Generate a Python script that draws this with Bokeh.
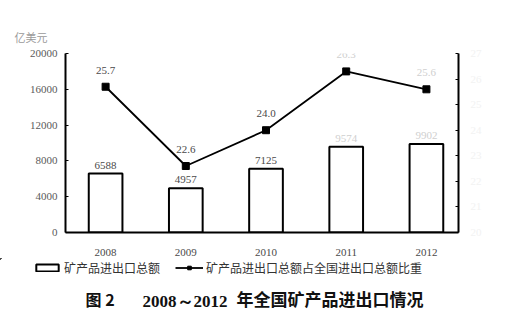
from bokeh.plotting import figure
from bokeh.models import (Range1d, LinearAxis, FixedTicker, Legend, LegendItem,
                          Label, ColumnDataSource)
from bokeh.core.properties import value
from bokeh.embed import file_html
from bokeh.resources import INLINE

# Data
years = ["2008", "2009", "2010", "2011", "2012"]
trade_total = [6588, 4957, 7125, 9574, 9902]          # 亿美元
trade_share = [25.7, 22.6, 24.0, 26.3, 25.6]           # %
left_ticks = [0, 4000, 8000, 12000, 16000, 20000]
right_ticks = [20, 21, 22, 23, 24, 25, 26, 27]

SERIF = "Liberation Serif"
CJK = "Noto Sans CJK SC"

xs = list(range(len(years)))
label_color = ["#4a4a4a", "#4a4a4a", "#4a4a4a", "#cfcfcf", "#cfcfcf"]
src = ColumnDataSource(dict(
    x=xs, total=trade_total, share=trade_share,
    total_txt=[str(v) for v in trade_total],
    share_txt=[f"{v:.1f}" for v in trade_share],
    color=label_color,
))

BAR_STYLE = dict(fill_color="white", line_color="black", line_width=2)
LINE_STYLE = dict(line_color="black", line_width=1.8)
PT_STYLE = dict(marker="square", size=7, fill_color="black", line_color="black")


def blank_strip(height):
    f = figure(width=524, height=height, output_backend="svg", toolbar_location=None,
               x_range=Range1d(100, 101), y_range=Range1d(-100, -99),
               min_border=0, x_axis_location=None, y_axis_location=None)
    f.outline_line_color = None
    f.xgrid.visible = False
    f.ygrid.visible = False
    return f


# ---- unit strip above the chart ----------------------------------------
top = blank_strip(45)
top.add_layout(Label(x=14, y=1, x_units="screen", y_units="screen",
                     text="亿美元", text_font=CJK, text_font_size="11px",
                     text_color="#9a9a9a"))

# ---- main chart -------------------------------------------------------
p = figure(width=524, height=213, output_backend="svg", toolbar_location=None,
           x_range=Range1d(-0.5, 4.4), y_range=Range1d(0, 20000),
           min_border_left=65, min_border_right=66, min_border_top=8,
           min_border_bottom=26, x_axis_location=None, y_axis_location=None)
p.outline_line_color = None
p.xgrid.visible = False
p.ygrid.visible = False
p.extra_y_ranges = {"share": Range1d(20, 27)}

yl = LinearAxis(ticker=FixedTicker(ticks=left_ticks))
yl.axis_line_width = 2
yl.axis_line_color = "black"
yl.major_tick_in = 3
yl.major_tick_out = 0
yl.minor_tick_line_color = None
yl.major_label_text_font = SERIF
yl.major_label_text_font_size = "11px"
yl.major_label_text_color = "#5a5a5a"
yl.major_label_standoff = 8
p.add_layout(yl, "left")

yr = LinearAxis(y_range_name="share", ticker=FixedTicker(ticks=right_ticks))
yr.axis_line_width = 2
yr.axis_line_color = "black"
yr.major_tick_in = 3
yr.major_tick_out = 0
yr.minor_tick_line_color = None
yr.major_label_text_font = SERIF
yr.major_label_text_font_size = "11px"
yr.major_label_text_color = "#f2f2f2"
yr.major_label_standoff = 12
p.add_layout(yr, "right")

xa = LinearAxis(ticker=FixedTicker(ticks=xs),
                major_label_overrides={i: y for i, y in enumerate(years)})
xa.axis_line_width = 2
xa.axis_line_color = "black"
xa.major_tick_line_color = None
xa.minor_tick_line_color = None
xa.major_label_text_font = SERIF
xa.major_label_text_font_size = "11px"
xa.major_label_text_color = "#4a4a4a"
xa.major_label_standoff = 10
p.add_layout(xa, "below")

# Bars: total trade value
p.vbar(x="x", top="total", width=0.42, bottom=0, source=src, **BAR_STYLE)

# Line: share of national trade
p.line(x="x", y="share", source=src, y_range_name="share", **LINE_STYLE)
p.scatter(x="x", y="share", source=src, y_range_name="share", **PT_STYLE)

# Value labels
p.text(x="x", y="total", text="total_txt", source=src, y_offset=-5,
       text_align="center", text_baseline="bottom", text_color="color",
       text_font=value(SERIF), text_font_size="11px")
p.text(x="x", y="share", text="share_txt", source=src, y_range_name="share",
       y_offset=-13, text_align="center", text_baseline="bottom",
       text_color="color", text_font=value(SERIF), text_font_size="11px")

# ---- legend and caption strip ----------------------------------------
# The key glyphs reuse the chart's source; this strip's ranges lie outside
# the data so only the legend swatches are drawn here.
q = blank_strip(69)
key_bar = q.vbar(x="x", top="total", width=0.42, bottom=0, source=src, **BAR_STYLE)
key_line = q.line(x="x", y="share", source=src, **LINE_STYLE)
key_pt = q.scatter(x="x", y="share", source=src, **PT_STYLE)

legend = Legend(items=[
    LegendItem(label="矿产品进出口总额", renderers=[key_bar]),
    LegendItem(label="矿产品进出口总额占全国进出口总额比重", renderers=[key_line, key_pt]),
], orientation="horizontal", location=(33, 51),
    label_text_font=CJK, label_text_font_size="12px", label_text_color="#333333",
    glyph_width=28, glyph_height=9, label_standoff=3, spacing=15,
    padding=1, margin=0, border_line_color=None, background_fill_alpha=0)
q.add_layout(legend, "center")

cap_y = 17
q.add_layout(Label(x=85, y=cap_y, x_units="screen", y_units="screen",
                   text="图 2", text_font=CJK, text_font_size="16px",
                   text_font_style="bold", text_color="#111111"))
q.add_layout(Label(x=142, y=cap_y, x_units="screen", y_units="screen",
                   text="2008～2012", text_font=SERIF, text_font_size="17px",
                   text_font_style="bold", text_color="#111111"))
q.add_layout(Label(x=236, y=cap_y, x_units="screen", y_units="screen",
                   text="年全国矿产品进出口情况", text_font=CJK, text_font_size="17px",
                   text_font_style="bold", text_color="#111111"))

open("out.html", "w").write(file_html([top, p, q], INLINE))
